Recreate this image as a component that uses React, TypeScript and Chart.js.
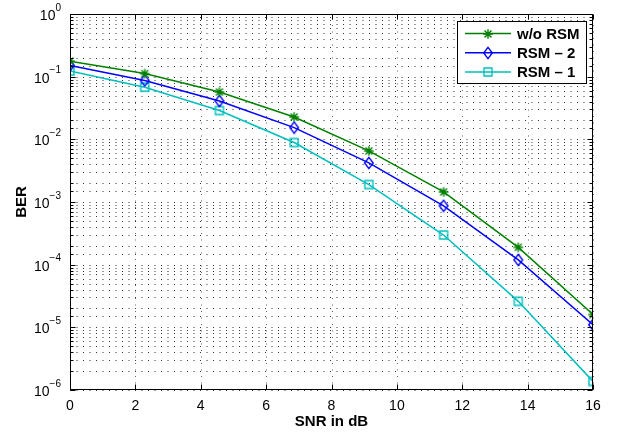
import React, { useEffect, useRef } from 'react';
import { Chart, registerables } from 'chart.js';

Chart.register(...registerables);

// ---- data ----
const snrDb = [0, 2.2857, 4.5714, 6.8571, 9.1429, 11.4286, 13.7143, 16];
const berNoRsm = [0.177, 0.112, 0.0569, 0.0227, 0.00653, 0.00145, 0.000189, 1.6e-5];
const berRsm2 = [0.151, 0.087, 0.0409, 0.0154, 0.0042, 0.00087, 0.000119, 1.1e-5];
const berRsm1 = [0.123, 0.068, 0.0288, 0.0089, 0.0019, 0.000297, 2.6e-5, 1.37e-6];
const seriesNames = ['w/o RSM', 'RSM – 2', 'RSM – 1'];
const seriesColors = ['#008000', '#0000ff', '#00bfbf'];
const seriesMarkers = ['star', 'diamond', 'square'];
const xTitle = 'SNR in dB';
const yTitle = 'BER';

const FONT = '"Liberation Sans", Arial, Helvetica, sans-serif';

function makeMarker(kind: string, color: string): HTMLCanvasElement {
  const c = document.createElement('canvas');
  const w = 12;
  const h = kind === 'diamond' ? 14 : 12;
  c.width = w;
  c.height = h;
  const g = c.getContext('2d')!;
  g.strokeStyle = color;
  g.lineWidth = 1.4;
  const cx = w / 2, cy = h / 2;
  g.beginPath();
  if (kind === 'star') {
    const r = 4.8;
    const d = r * 0.72;
    g.moveTo(cx - r, cy); g.lineTo(cx + r, cy);
    g.moveTo(cx, cy - r); g.lineTo(cx, cy + r);
    g.moveTo(cx - d, cy - d); g.lineTo(cx + d, cy + d);
    g.moveTo(cx - d, cy + d); g.lineTo(cx + d, cy - d);
  } else if (kind === 'diamond') {
    g.moveTo(cx, cy - 5.6); g.lineTo(cx + 4.3, cy); g.lineTo(cx, cy + 5.6); g.lineTo(cx - 4.3, cy); g.closePath();
  } else {
    g.rect(cx - 4, cy - 4, 8, 8);
  }
  g.stroke();
  return c;
}

const matlabPlugin = {
  id: 'matlabStyle',
  beforeDraw(chart: any) {
    const ctx = chart.ctx;
    ctx.save();
    ctx.fillStyle = '#ffffff';
    ctx.fillRect(0, 0, chart.width, chart.height);
    ctx.restore();
  },
  beforeDatasetsDraw(chart: any) {
    const { ctx, chartArea: a, scales } = chart;
    const xs = scales.x, ys = scales.y;
    ctx.save();
    ctx.lineWidth = 1;
    ctx.setLineDash([1, 5.5]);
    // vertical grid (lighter)
    ctx.strokeStyle = 'rgba(0,0,0,0.6)';
    ctx.beginPath();
    xs.ticks.forEach((t: any) => {
      const px = Math.round(xs.getPixelForValue(t.value)) + 0.5;
      ctx.moveTo(px, a.bottom);
      ctx.lineTo(px, a.top);
    });
    ctx.stroke();
    // horizontal grid (major + minor)
    ctx.strokeStyle = 'rgba(0,0,0,0.8)';
    ctx.beginPath();
    ys.ticks.forEach((t: any) => {
      const py = Math.round(ys.getPixelForValue(t.value)) + 0.5;
      ctx.moveTo(a.left, py);
      ctx.lineTo(a.right, py);
    });
    ctx.stroke();
    ctx.restore();
  },
  afterDraw(chart: any) {
    const { ctx, chartArea: a, scales } = chart;
    const xs = scales.x, ys = scales.y;
    ctx.save();
    const L = Math.round(a.left) + 0.5, R = Math.round(a.right) - 0.5;
    const T = Math.round(a.top) + 0.5, B = Math.round(a.bottom) - 0.5;
    ctx.strokeStyle = '#000';
    ctx.lineWidth = 1;
    ctx.setLineDash([]);
    ctx.beginPath();
    xs.ticks.forEach((t: any) => {
      const px = Math.round(xs.getPixelForValue(t.value)) + 0.5;
      ctx.moveTo(px, B); ctx.lineTo(px, B - 5);
      ctx.moveTo(px, T); ctx.lineTo(px, T + 5);
    });
    ys.ticks.forEach((t: any) => {
      const lg = Math.log10(t.value);
      const major = Math.abs(lg - Math.round(lg)) < 1e-6;
      const len = major ? 5 : 3;
      const py = Math.round(ys.getPixelForValue(t.value)) + 0.5;
      ctx.moveTo(L, py); ctx.lineTo(L + len, py);
      ctx.moveTo(R, py); ctx.lineTo(R - len, py);
    });
    ctx.stroke();
    ctx.strokeRect(L, T, R - L, B - T);

    // x tick labels
    ctx.fillStyle = '#000';
    ctx.font = `14px ${FONT}`;
    ctx.textAlign = 'center';
    ctx.textBaseline = 'middle';
    xs.ticks.forEach((t: any) => {
      const px = xs.getPixelForValue(t.value);
      ctx.fillText(String(t.value), px, a.bottom + 16);
    });

    // y tick labels with superscript exponents
    ys.ticks.forEach((t: any) => {
      const lg = Math.log10(t.value);
      if (Math.abs(lg - Math.round(lg)) > 1e-6) return;
      const e = Math.round(lg);
      const expStr = e < 0 ? '\u2212' + String(-e) : String(e);
      const py = ys.getPixelForValue(t.value);
      ctx.font = `10px ${FONT}`;
      const ew = ctx.measureText(expStr).width;
      const right = a.left - 9;
      ctx.textAlign = 'left';
      ctx.fillText(expStr, right - ew, py - 6);
      ctx.font = `14px ${FONT}`;
      ctx.textAlign = 'right';
      ctx.fillText('10', right - ew, py + 2);
    });

    // axis titles
    ctx.font = `bold 15px ${FONT}`;
    ctx.textAlign = 'center';
    ctx.textBaseline = 'middle';
    ctx.fillText(xTitle, (a.left + a.right) / 2, a.bottom + 32);
    ctx.save();
    ctx.translate(22, (a.top + a.bottom) / 2);
    ctx.rotate(-Math.PI / 2);
    ctx.fillText(yTitle, 0, 0);
    ctx.restore();

    // legend
    const lx = 457, ly = 21, lw = 129, lh = 62;
    ctx.fillStyle = '#fff';
    ctx.fillRect(lx, ly, lw, lh);
    ctx.strokeStyle = '#000';
    ctx.lineWidth = 1;
    ctx.strokeRect(lx + 0.5, ly + 0.5, lw, lh);
    chart.data.datasets.forEach((ds: any, i: number) => {
      const ry = ly + 12.5 + i * 19.2;
      ctx.strokeStyle = ds.borderColor;
      ctx.lineWidth = 1.5;
      ctx.beginPath();
      ctx.moveTo(lx + 8, ry);
      ctx.lineTo(lx + 54, ry);
      ctx.stroke();
      const img = ds.pointStyle as HTMLCanvasElement;
      ctx.drawImage(img, Math.round(lx + 31 - img.width / 2), Math.round(ry - img.height / 2));
      ctx.fillStyle = '#000';
      ctx.font = `bold 15px ${FONT}`;
      ctx.textAlign = 'left';
      ctx.textBaseline = 'middle';
      ctx.fillText(ds.label, lx + 60, ry + 1);
    });
    ctx.restore();
  },
};

export default function App() {
  const ref = useRef<HTMLCanvasElement | null>(null);
  useEffect(() => {
    if (!ref.current) return;
    const values = [berNoRsm, berRsm2, berRsm1];
    const datasets = values.map((vals, i) => ({
      label: seriesNames[i],
      data: snrDb.map((x, j) => ({ x, y: vals[j] })),
      borderColor: seriesColors[i],
      backgroundColor: seriesColors[i],
      borderWidth: 1.5,
      pointStyle: makeMarker(seriesMarkers[i], seriesColors[i]),
      pointRadius: 5,
      tension: 0,
    }));
    const chart = new Chart(ref.current, {
      type: 'line',
      data: { datasets },
      plugins: [matlabPlugin],
      options: {
        animation: false,
        responsive: false,
        layout: { padding: { left: 70, right: 34, top: 14, bottom: 44 } },
        plugins: { legend: { display: false }, tooltip: { enabled: false } },
        scales: {
          x: {
            type: 'linear',
            min: 0,
            max: 16,
            ticks: { display: false, stepSize: 2 },
            grid: { display: false, drawTicks: false },
            border: { display: false },
          },
          y: {
            type: 'logarithmic',
            min: 1e-6,
            max: 1,
            ticks: { display: false },
            grid: { display: false, drawTicks: false },
            border: { display: false },
          },
        },
      },
    });
    return () => chart.destroy();
  }, []);
  return (
    <div style={{ position: 'absolute', left: 0, top: 0, width: 627, height: 434 }}>
      <canvas ref={ref} width={627} height={434} />
    </div>
  );
}
